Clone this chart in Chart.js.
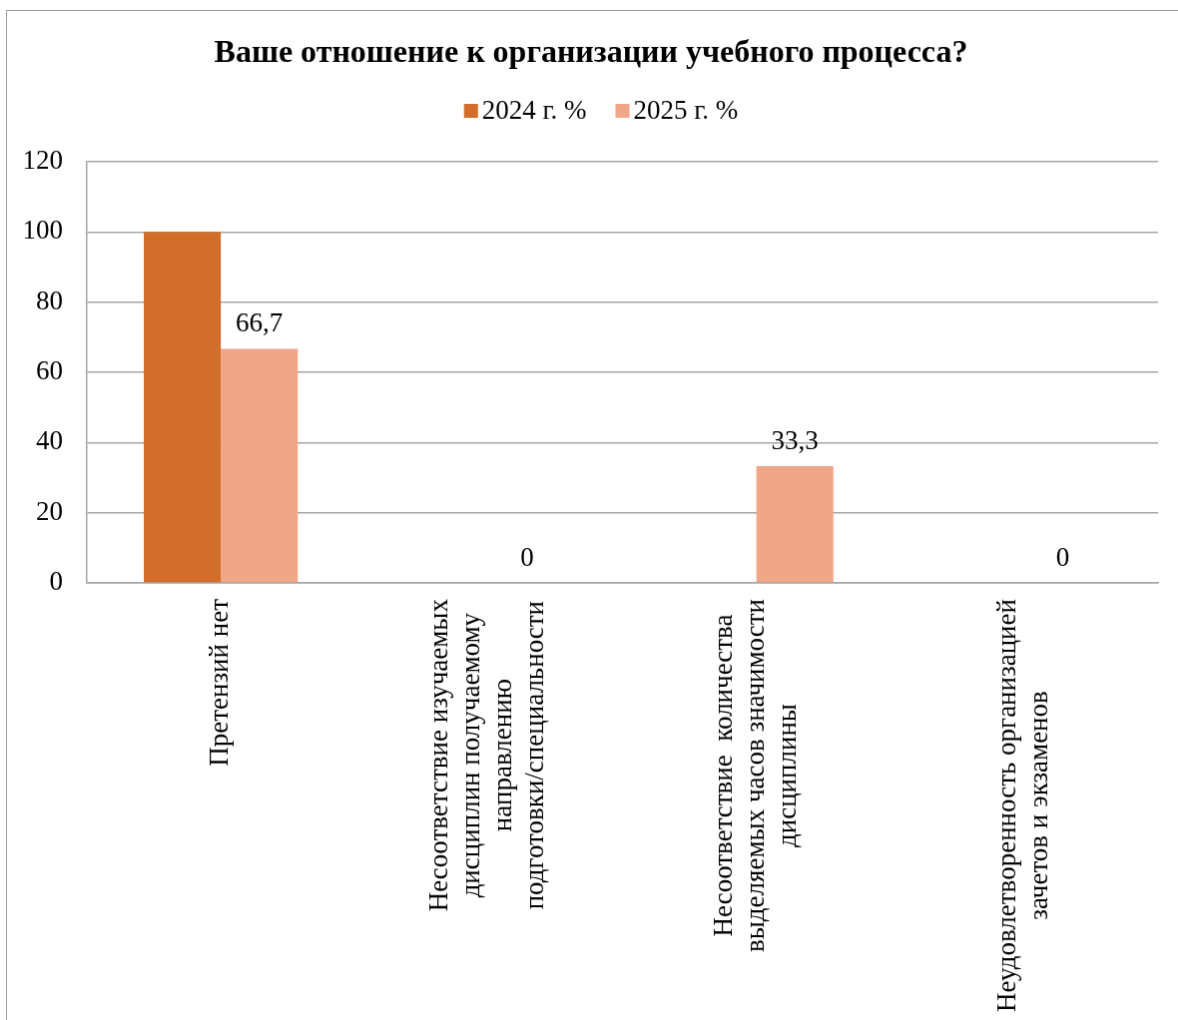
<!DOCTYPE html>
<html lang="ru">
<head>
<meta charset="utf-8">
<title>Ваше отношение к организации учебного процесса?</title>
<script src="https://cdn.jsdelivr.net/npm/chart.js@4.4.1/dist/chart.umd.min.js"></script>
<style>
  html, body { margin: 0; padding: 0; background: #fff; overflow: hidden; }
  body { width: 1178px; height: 1020px; position: relative; }
  #chart {
    position: absolute; left: 6px; top: 10px;
    border: 1px solid #a0a0a0;
  }
</style>
</head>
<body>
<canvas id="chart" width="1180" height="1020"></canvas>
<script>
/* ---------------- data ---------------- */
const title = "Ваше отношение к организации учебного процесса?";

// category labels, split into lines as in the original
const categories = [
  ["Претензий нет"],
  ["Несоответствие изучаемых", "дисциплин получаемому", "направлению", "подготовки/специальности"],
  ["Несоответствие  количества", "выделяемых часов значимости", "дисциплины"],
  ["Неудовлетворенность организацией", "зачетов и экзаменов"],
];

const seriesNames = ["2024 г. %", "2025 г. %"];
const values2024 = [100, 0, 0, 0];
const values2025 = [66.7, 0, 33.3, 0];
const seriesColors = ["#D26D2B", "#F0A688"];
const labeledSeries = [false, true]; // only 2025 has data labels

const yTicks = [0, 20, 40, 60, 80, 100, 120];

const FONT = "'Liberation Serif', 'Times New Roman', serif";
const FS = 27;

/* ---------------- plugins ---------------- */
// value labels above the bars
const valueLabels = {
  id: "valueLabels",
  afterDatasetsDraw(chart) {
    const ctx = chart.ctx;
    ctx.save();
    ctx.font = FS + "px " + FONT;
    ctx.fillStyle = "#000";
    ctx.textAlign = "center";
    ctx.textBaseline = "alphabetic";
    chart.data.datasets.forEach((ds, di) => {
      if (!labeledSeries[di]) return;
      chart.getDatasetMeta(di).data.forEach((bar, i) => {
        const txt = String(ds.data[i]).replace(".", ",");
        ctx.fillText(txt, bar.x, bar.y - 17);
      });
    });
    ctx.restore();
  },
};

// rotated, centred multi-line category labels
const categoryLabels = {
  id: "categoryLabels",
  afterDraw(chart) {
    const ctx = chart.ctx;
    const x = chart.scales.x;
    const top = x.top + 16;
    const lineH = 32;
    ctx.save();
    ctx.font = FS + "px " + FONT;
    ctx.fillStyle = "#000";
    ctx.textAlign = "center";
    ctx.textBaseline = "middle";
    categories.forEach((lines, i) => {
      const cx = x.getPixelForValue(i);
      const w = Math.max(...lines.map((l) => ctx.measureText(l).width));
      ctx.save();
      ctx.translate(cx, top);
      ctx.rotate(-Math.PI / 2);
      lines.forEach((l, k) => {
        ctx.fillText(l, -w / 2, (k - (lines.length - 1) / 2) * lineH);
      });
      ctx.restore();
    });
    ctx.restore();
  },
};

// legend drawn between title and plot
const legendRow = {
  id: "legendRow",
  afterDraw(chart) {
    const ctx = chart.ctx;
    const box = 14, gap = 4, spacing = 29;
    const cy = 100;
    ctx.save();
    ctx.font = FS + "px " + FONT;
    ctx.textBaseline = "middle";
    ctx.textAlign = "left";
    const items = chart.data.datasets.map((ds) => ({
      label: ds.label,
      color: ds.backgroundColor,
      w: ctx.measureText(ds.label).width,
    }));
    const total = items.reduce((s, it) => s + box + gap + it.w, 0) + spacing * (items.length - 1);
    let xPos = 595 - total / 2;
    items.forEach((it) => {
      ctx.fillStyle = it.color;
      ctx.fillRect(xPos, cy - box / 2, box, box);
      ctx.fillStyle = "#000";
      ctx.fillText(it.label, xPos + box + gap, cy + 1);
      xPos += box + gap + it.w + spacing;
    });
    ctx.restore();
  },
};

/* ---------------- chart ---------------- */
const ctx = document.getElementById("chart").getContext("2d");

new Chart(ctx, {
  type: "bar",
  data: {
    labels: categories.map((c) => c.join(" ")),
    datasets: [
      {
        label: seriesNames[0],
        data: values2024,
        backgroundColor: seriesColors[0],
        categoryPercentage: 0.575,
        barPercentage: 1,
      },
      {
        label: seriesNames[1],
        data: values2025,
        backgroundColor: seriesColors[1],
        categoryPercentage: 0.575,
        barPercentage: 1,
      },
    ],
  },
  options: {
    responsive: false,
    animation: false,
    layout: { padding: { top: 0, left: 17, right: 27, bottom: 0 } },
    plugins: {
      legend: { display: false },
      tooltip: { enabled: false },
      title: {
        display: true,
        text: title,
        color: "#000",
        font: { family: FONT, size: 32, weight: "bold", lineHeight: 1.2 },
        padding: { top: 23.5, bottom: 89.1 },
      },
    },
    scales: {
      x: {
        grid: { display: false },
        border: { display: true, color: "#a6a6a6", width: 1.5 },
        ticks: { display: false },
        afterFit(scale) { scale.height = 447; },
      },
      y: {
        min: 0,
        max: 120,
        afterBuildTicks(scale) { scale.ticks = yTicks.map((v) => ({ value: v })); },
        grid: { color: "#a6a6a6", lineWidth: 1.5, drawTicks: false },
        border: { display: true, color: "#a6a6a6", width: 1.5 },
        ticks: {
          color: "#000",
          padding: 24,
          font: { family: FONT, size: FS },
        },
        afterFit(scale) { scale.width = 63; },
      },
    },
  },
  plugins: [valueLabels, categoryLabels, legendRow],
});
</script>
</body>
</html>
